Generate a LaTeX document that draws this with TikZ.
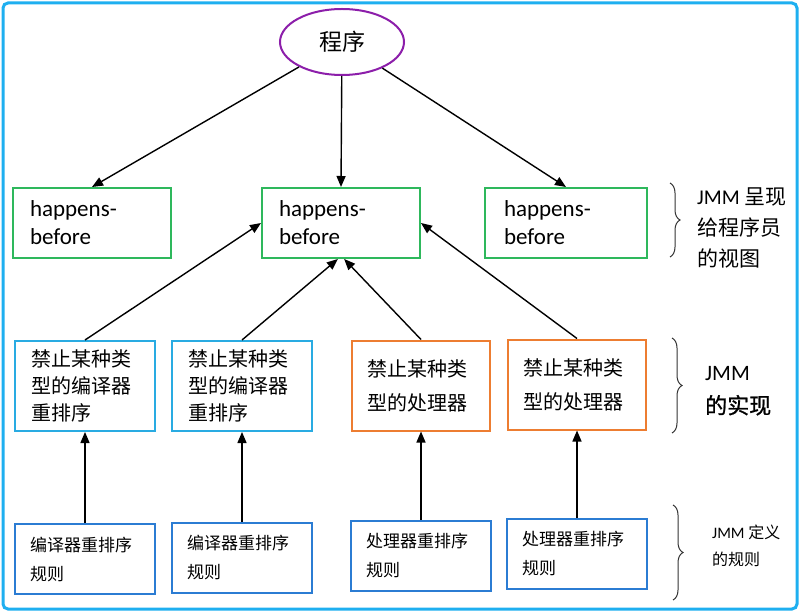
\documentclass[tikz,border=0pt]{standalone}
\usepackage{fontspec}
\setmainfont{Carlito}
\newfontfamily\cjk{Noto Sans CJK SC}
\newfontfamily\cjkb[FakeBold=1]{Noto Sans CJK SC}
\usetikzlibrary{arrows.meta,decorations.pathreplacing,shapes.geometric}
\definecolor{hbgreen}{RGB}{46,184,92}
\definecolor{midblue}{RGB}{41,171,226}
\definecolor{midorange}{RGB}{237,125,49}
\definecolor{botblue}{RGB}{43,124,211}
\definecolor{progpurple}{RGB}{140,30,170}
\definecolor{framecyan}{RGB}{30,175,240}
\tikzset{
  hbbox/.style={draw=hbgreen, line width=2pt, minimum width=158pt, minimum height=70pt,
    text width=124pt, inner xsep=17pt, align=left, font=\fontsize{23}{28}\selectfont},
  bluebox/.style={draw=midblue, line width=2pt, minimum width=140pt, minimum height=90pt,
    text width=108pt, inner xsep=16pt, align=left, font=\cjk\fontsize{20}{27}\selectfont},
  orangebox/.style={draw=midorange, line width=2pt, minimum width=138pt, minimum height=90pt,
    text width=108pt, inner xsep=15pt, align=left, font=\cjk\fontsize{20}{34}\selectfont},
  botbox/.style={draw=botblue, line width=2pt, minimum width=140pt, minimum height=70pt,
    text width=110pt, inner xsep=15pt, align=left, font=\cjk\fontsize{17}{29}\selectfont},
  arr/.style={-{Triangle[length=11pt,width=9pt]}, line width=1.4pt, black},
  brc/.style={decorate, decoration={brace, amplitude=10pt}, line width=1pt, black!80},
  lab/.style={anchor=west, align=left, inner sep=0pt}
}
\begin{document}
\begin{tikzpicture}[x=1pt,y=-1pt]
\useasboundingbox (0,0) rectangle (800,612);
\draw[framecyan, line width=3pt, rounded corners=5pt] (3,3) rectangle (797,609);

\node[ellipse, draw=progpurple, line width=2pt, minimum width=124pt, minimum height=66pt,
  font=\cjk\fontsize{23}{28}\selectfont] (prog) at (342,42) {程序};

\node[hbbox] (hb1) at (92,223) {happens-\\before};
\node[hbbox] (hb2) at (341,223) {happens-\\before};
\node[hbbox, minimum width=162pt] (hb3) at (566,223) {happens-\\before};

\node[bluebox] (m1) at (85,386) {禁止某种类\\型的编译器\\重排序};
\node[bluebox] (m2) at (242,386) {禁止某种类\\型的编译器\\重排序};
\node[orangebox] (m3) at (421,385.5) {禁止某种类\\型的处理器};
\node[orangebox, minimum width=136pt] (m4) at (577,384.5) {禁止某种类\\型的处理器};

\node[botbox] (b1) at (85,559) {编译器重排序\\规则};
\node[botbox] (b2) at (242,557.5) {编译器重排序\\规则};
\node[botbox] (b3) at (421,555.5) {处理器重排序\\规则};
\node[botbox] (b4) at (577,554) {处理器重排序\\规则};

\draw[arr] (prog) -- (hb1.north);
\draw[arr] (prog) -- (hb2.north);
\draw[arr] (prog) -- (hb3.north);

\draw[arr] (m1.north) -- (hb2.west);
\draw[arr] (m2.north) -- (hb2.265);
\draw[arr] (m3.north) -- (hb2.275);
\draw[arr] (m4.north) -- (hb2.east);

\draw[arr] (b1.north) -- (m1.south);
\draw[arr] (b2.north) -- (m2.south);
\draw[arr] (b3.north) -- (m3.south);
\draw[arr] (b4.north) -- (m4.south);

\draw[brc] (670,183) -- (670,257);
\draw[brc] (672,338) -- (672,433);
\draw[brc] (673,505) -- (673,600);

\node[lab, font=\fontsize{21}{31}\selectfont] (l1) at (697,228) {JMM {\cjk 呈现}\\{\cjk 给程序员}\\{\cjk 的视图}};
\node[lab, font=\fontsize{22}{33}\selectfont] (l2) at (705,391) {JMM\\{\cjkb 的实现}};
\node[lab, font=\fontsize{16}{27}\selectfont] (l3) at (712,546) {JMM {\cjk 定义}\\{\cjk 的规则}};
\end{tikzpicture}
\end{document}
